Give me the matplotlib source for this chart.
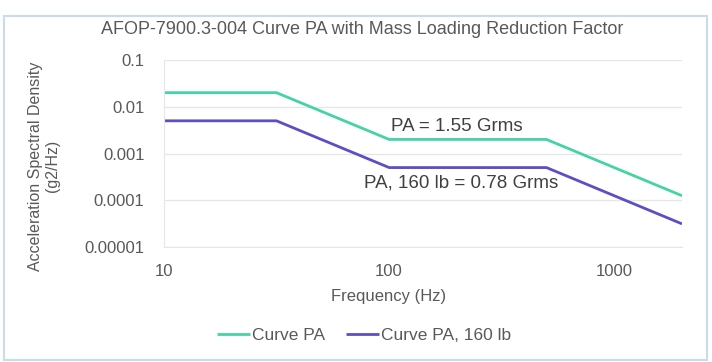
import matplotlib
matplotlib.use("Agg")
import matplotlib.pyplot as plt
from matplotlib.patches import Rectangle
from matplotlib.ticker import FixedLocator, NullLocator, FixedFormatter

plt.rcParams['font.family'] = ['Liberation Sans', 'DejaVu Sans']

freq = [10, 31.6, 100, 500, 2000]
curve_pa = [0.02, 0.02, 0.002, 0.002, 0.000125]
curve_pa_160 = [0.005, 0.005, 0.0005, 0.0005, 0.00003125]
series_names = ["Curve PA", "Curve PA, 160 lb"]
y_ticks = [0.00001, 0.0001, 0.001, 0.01, 0.1]
y_tick_labels = ["0.00001", "0.0001", "0.001", "0.01", "0.1"]
x_ticks = [10, 100, 1000]
x_tick_labels = ["10", "100", "1000"]
annot_pa = "PA = 1.55 Grms"
annot_160 = "PA, 160 lb = 0.78 Grms"

W, H = 712, 362
fig = plt.figure(figsize=(W / 100, H / 100), dpi=100)
fig.patch.set_facecolor("white")

gray = "#595959"

# outer frame
fig.patches.append(Rectangle((4 / W, 2 / H), 703 / W, 344 / H, transform=fig.transFigure,
                             fill=False, edgecolor="#c9dcec", linewidth=1.5))

ax = fig.add_axes([164 / W, 1 - 247 / H, (682 - 164) / W, (247 - 60) / H])

teal = "#45d3a6"
purple = "#5b4fc4"
ax.plot(freq, curve_pa, color=teal, lw=2.0, label=series_names[0], solid_capstyle="butt")
ax.plot(freq, curve_pa_160, color=purple, lw=2.0, label=series_names[1], solid_capstyle="butt")

ax.set_xscale("log")
ax.set_yscale("log")
ax.set_xlim(10, 2000)
ax.set_ylim(1e-5, 0.1)

ax.yaxis.set_major_locator(FixedLocator(y_ticks))
ax.yaxis.set_major_formatter(FixedFormatter(y_tick_labels))
ax.yaxis.set_minor_locator(NullLocator())
ax.xaxis.set_major_locator(FixedLocator(x_ticks))
ax.xaxis.set_major_formatter(FixedFormatter(x_tick_labels))
ax.xaxis.set_minor_locator(NullLocator())

ax.grid(axis="y", color="#e6e6e6", lw=0.9)
ax.set_axisbelow(True)
for s in ["top", "right"]:
    ax.spines[s].set_visible(False)
ax.spines["left"].set_color("#e6e6e6")
ax.spines["bottom"].set_color("#e6e6e6")
ax.tick_params(axis="both", length=0, colors=gray, labelsize=12)
ax.tick_params(axis="x", pad=12)
ax.tick_params(axis="y", pad=14)

fig.text(362 / W, 1 - 30 / H, "AFOP-7900.3-004 Curve PA with Mass Loading Reduction Factor",
         fontsize=13, color=gray, ha="center", va="center")
fig.text(389 / W, 1 - 296 / H, "Frequency (Hz)", fontsize=12, color=gray,
         ha="center", va="center")
fig.text(44 / W, 1 - 166 / H, "Acceleration Spectral Density\n(g2/Hz)", fontsize=11.5,
         color=gray, ha="center", va="center", rotation=90, linespacing=1.1,
         multialignment="center")

ax.text(102, 0.0025, annot_pa, fontsize=13.5, color="#404040", ha="left", va="bottom")
ax.text(77, 0.00036, annot_160, fontsize=13.5, color="#404040", ha="left", va="top")

leg = fig.legend(loc="center", bbox_to_anchor=(364 / W, 1 - 335 / H), ncol=2, frameon=False,
                 fontsize=12.5, handlelength=1.9, handletextpad=0.1, columnspacing=1.2)
for t in leg.get_texts():
    t.set_color(gray)

fig.savefig("out.png", dpi=100, facecolor="white")
